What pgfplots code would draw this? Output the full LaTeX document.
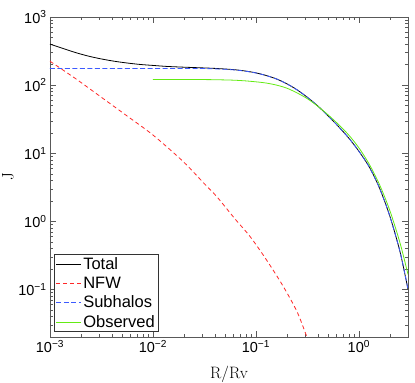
\documentclass[border=0pt]{standalone}
\usepackage{fontspec}
\newfontfamily\arial{Liberation Sans}
\usepackage{pgfplots}
\pgfplotsset{compat=1.18}

\definecolor{nfwred}{RGB}{255,40,40}
\definecolor{subblue}{RGB}{60,90,255}
\definecolor{obsgreen}{RGB}{100,235,20}

\begin{document}
\begin{tikzpicture}
\begin{axis}[
  scale only axis, width=358pt, height=320pt,
  xmode=log, ymode=log,
  xmin=0.001, xmax=3, ymin=0.02, ymax=1000,
  xtick={0.001,0.01,0.1,1},
  xticklabels={10\textsuperscript{−3},10\textsuperscript{−2},10\textsuperscript{−1},10\textsuperscript{0}},
  minor xtick={0.002,0.003,0.004,0.005,0.006,0.007,0.008,0.009,
    0.02,0.03,0.04,0.05,0.06,0.07,0.08,0.09,
    0.2,0.3,0.4,0.5,0.6,0.7,0.8,0.9,2,3},
  ytick={0.1,1,10,100,1000},
  yticklabels={10\textsuperscript{−1},10\textsuperscript{0},10\textsuperscript{1},10\textsuperscript{2},10\textsuperscript{3}},
  minor ytick={0.03,0.04,0.05,0.06,0.07,0.08,0.09,
    0.2,0.3,0.4,0.5,0.6,0.7,0.8,0.9,
    2,3,4,5,6,7,8,9,20,30,40,50,60,70,80,90,
    200,300,400,500,600,700,800,900},
  tick align=inside,
  major tick length=6pt, minor tick length=3pt,
  axis line style={draw=black!65},
  every tick/.style={draw=black!65},
  ticklabel style={font=\arial\fontsize{14.5}{16}\selectfont},
  xlabel={R/Rv}, ylabel={J},
  label style={font=\fontsize{16.5}{18}\selectfont},
  xlabel style={yshift=-6pt},
  ylabel style={at={(axis description cs:-0.092,0.5)}, anchor=south},
  legend cell align=left,
  legend style={at={(0.012,0.016)}, anchor=south west,
    font=\arial\fontsize{16.5}{18}\selectfont,
    draw=black!80, inner sep=1.5pt, row sep=3pt,
    nodes={inner sep=1.5pt}},
  legend image code/.code={\draw[#1] (0pt,0pt) -- (25pt,0pt);},
]
\coordinate (bl) at (rel axis cs:0,0);
\coordinate (tr) at (rel axis cs:1,1);

% Total
\addplot[black, line width=0.8pt, smooth] coordinates {
  (0.001,400) (0.00133,346) (0.001778,300) (0.002371,266) (0.003162,242)
  (0.004217,224) (0.005623,211) (0.0075,201) (0.01,194.5) (0.01334,188.4)
  (0.01778,184.6) (0.02512,180.9) (0.03162,178.6) (0.03981,175.9)
  (0.05012,172.3) (0.0631,167.8) (0.07943,160.7) (0.1,151.2) (0.1259,138.3)
  (0.1585,123.0) (0.1995,104.7) (0.2512,85.1) (0.3162,66.1) (0.3981,49.5)
  (0.5012,35.5) (0.631,24.8) (0.7943,16.8) (1,10.7) (1.259,6.31)
  (1.585,3.09) (1.995,1.20) (2.512,0.355) (3,0.100)};
% NFW
\addplot[nfwred, line width=0.8pt, dash pattern=on 4pt off 3pt, smooth] coordinates {
  (0.001,224) (0.001778,124) (0.003162,66.1) (0.005623,35.1) (0.01,18.5)
  (0.01968,7.53) (0.03162,3.55) (0.0415,2.32) (0.0631,1.07) (0.0875,0.601)
  (0.1259,0.275) (0.1841,0.111) (0.2512,0.0468) (0.3105,0.0207) (0.3548,0.0126)};
% Subhalos
\addplot[subblue, line width=0.8pt, dash pattern=on 5pt off 2.5pt, smooth] coordinates {
  (0.001,175.8) (0.01,175.8) (0.02512,175.8) (0.03162,175.0) (0.03981,173.4)
  (0.05012,170.6) (0.0631,166.7) (0.07943,160.0) (0.1,150.7) (0.1259,138.0)
  (0.1585,123.0) (0.1995,104.7) (0.2512,85.1) (0.3162,66.1) (0.3981,49.5)
  (0.5012,35.5) (0.631,24.8) (0.7943,16.8) (1,10.7) (1.259,6.31)
  (1.585,3.09) (1.995,1.20) (2.512,0.355) (3,0.100)};
% Observed
\addplot[obsgreen, line width=0.8pt, smooth] coordinates {
  (0.01,121.1) (0.03162,120.5) (0.05012,119.1) (0.0631,117.8) (0.07943,115.3)
  (0.1,111.7) (0.1259,107.2) (0.1585,100) (0.1995,90.2) (0.2512,76.7)
  (0.3162,63.1) (0.3981,49.0) (0.5012,36.7) (0.631,26.6) (0.7943,18.6)
  (1,12.0) (1.259,6.92) (1.585,3.47) (1.995,1.45) (2.512,0.479) (3,0.166)};
\legend{Total, NFW, Subhalos, Observed}
\end{axis}
\pgfresetboundingbox
\path[use as bounding box] ([shift={(-50pt,-45pt)}]bl) rectangle ([shift={(7pt,17pt)}]tr);
\end{tikzpicture}
\end{document}
